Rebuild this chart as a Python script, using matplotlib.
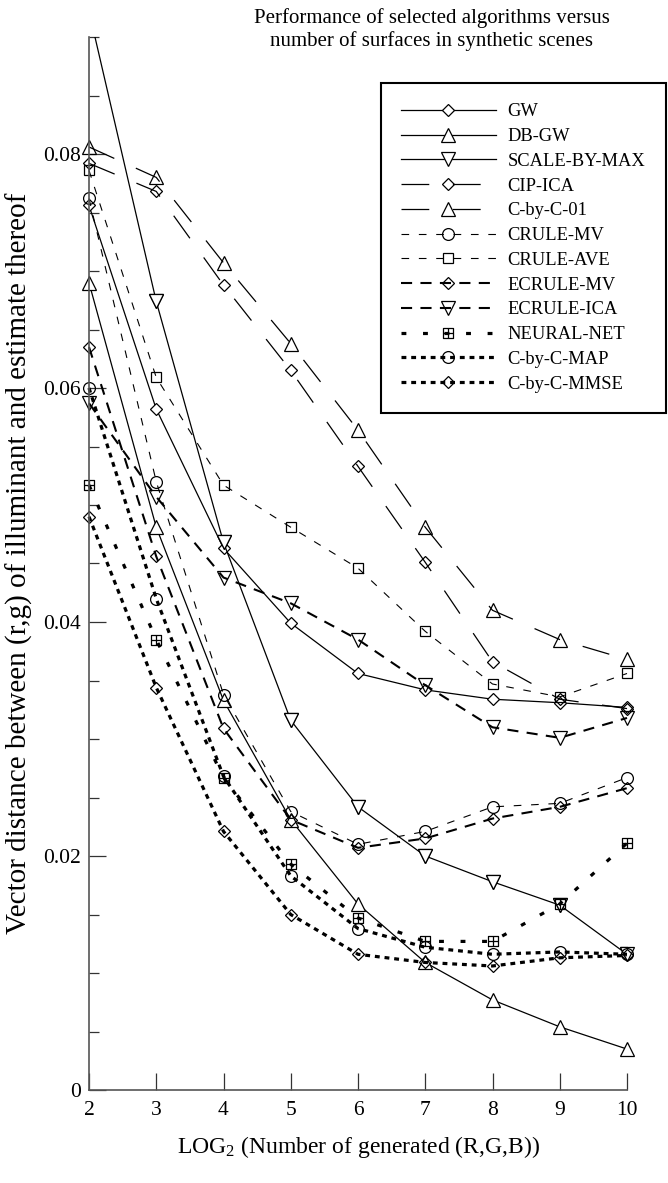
import numpy as np
import matplotlib
matplotlib.use("Agg")
import matplotlib.pyplot as plt
import matplotlib.ticker as mticker
from matplotlib.path import Path

# data
log2_n = [2, 3, 4, 5, 6, 7, 8, 9, 10]

gw          = [0.0756, 0.0582, 0.0463, 0.0399, 0.0356, 0.0342, 0.0334, 0.0331, 0.0327]
db_gw       = [0.0690, 0.0481, 0.0333, 0.0231, 0.0159, 0.0109, 0.0077, 0.0054, 0.0035]
scale_max   = [0.0922, 0.0674, 0.0468, 0.0316, 0.0242, 0.0200, 0.0178, 0.0158, 0.0116]
cip_ica     = [0.0792, 0.0768, 0.0688, 0.0615, 0.0533, 0.0451, 0.0366, 0.0334, 0.0326]
cbyc_01     = [0.0806, 0.0780, 0.0707, 0.0638, 0.0564, 0.0481, 0.0410, 0.0385, 0.0368]
crule_mv    = [0.0762, 0.0520, 0.0338, 0.0238, 0.0210, 0.0221, 0.0242, 0.0245, 0.0267]
crule_ave   = [0.0786, 0.0609, 0.0517, 0.0481, 0.0446, 0.0392, 0.0347, 0.0336, 0.0356]
ecrule_mv   = [0.0635, 0.0456, 0.0309, 0.0231, 0.0207, 0.0215, 0.0232, 0.0242, 0.0258]
ecrule_ica  = [0.0587, 0.0507, 0.0438, 0.0416, 0.0385, 0.0346, 0.0310, 0.0301, 0.0318]
neural_net  = [0.0517, 0.0385, 0.0267, 0.0193, 0.0147, 0.0127, 0.0127, 0.0159, 0.0211]
cbyc_map    = [0.0600, 0.0420, 0.0268, 0.0183, 0.0138, 0.0122, 0.0116, 0.0118, 0.0116]
cbyc_mmse   = [0.0490, 0.0344, 0.0221, 0.0150, 0.0116, 0.0109, 0.0106, 0.0113, 0.0115]

names = ["GW", "DB-GW", "SCALE-BY-MAX", "CIP-ICA", "C-by-C-01", "CRULE-MV",
         "CRULE-AVE", "ECRULE-MV", "ECRULE-ICA", "NEURAL-NET", "C-by-C-MAP",
         "C-by-C-MMSE"]
series = [gw, db_gw, scale_max, cip_ica, cbyc_01, crule_mv, crule_ave,
          ecrule_mv, ecrule_ica, neural_net, cbyc_map, cbyc_mmse]

# square with a cross inside (NEURAL-NET)
boxplus = Path([(-1, -1), (1, -1), (1, 1), (-1, 1), (-1, -1),
                (0, -1), (0, 1), (-1, 0), (1, 0)],
               [Path.MOVETO, Path.LINETO, Path.LINETO, Path.LINETO, Path.CLOSEPOLY,
                Path.MOVETO, Path.LINETO, Path.MOVETO, Path.LINETO])

SOLID = None
LONG  = (20, 17)
THIN  = (5.5, 7)
MED   = (8, 6)
NN    = (3.5, 12)
DOT   = (3.5, 3.5)

# (marker, size, dashes, linewidth, filled)
styles = [
    ("D", 5.8, SOLID, 0.9, True),
    ("^", 9.5, SOLID, 0.9, True),
    ("v", 9.5, SOLID, 0.9, True),
    ("D", 5.8, LONG, 0.9, False),
    ("^", 9.5, LONG, 0.9, False),
    ("o", 8.5, THIN, 0.8, False),
    ("s", 7.5, THIN, 0.8, False),
    ("D", 5.8, MED, 1.5, False),
    ("v", 9.5, MED, 1.5, False),
    (boxplus, 7.5, NN, 2.3, False),
    ("o", 8.5, DOT, 2.3, False),
    ("D", 5.8, DOT, 2.3, False),
]

plt.rcParams.update({
    "font.family": ["Liberation Serif", "DejaVu Serif"],
    "mathtext.fontset": "custom",
    "mathtext.rm": "Liberation Serif",
    "mathtext.it": "Liberation Serif:italic",
    "lines.scale_dashes": False,
    "xtick.direction": "in",
    "ytick.direction": "in",
})

fig = plt.figure(figsize=(6.68, 11.83), dpi=100)
ax = fig.add_axes([89 / 668, 1 - 1090 / 1183, 538 / 668, 1053 / 1183])
ax.set_facecolor("none")

YMAX = 0.09
for name, ys, (mk, ms, dash, lw, filled) in zip(names, series, styles):
    kw = dict(color="black", lw=lw, marker=mk, ms=ms, mew=0.9,
              mec="black", mfc="white" if filled else "none")
    if dash is not None:
        kw["dashes"] = dash
    ys = np.array(ys)
    over = ys.max() > YMAX
    ax.plot(log2_n, ys, label=name, clip_on=over, **kw)
    if over:
        # markers that sit on the frame edges stay whole
        keep = ys <= YMAX
        ax.plot(np.array(log2_n)[keep], ys[keep], ls="none", marker=mk, ms=ms,
                mew=0.9, mec="black", mfc=kw["mfc"], clip_on=False)

ax.set_xlim(2, 10)
ax.set_ylim(0, YMAX)
ax.set_xticks(log2_n)
ax.yaxis.set_major_locator(mticker.MultipleLocator(0.02))
ax.yaxis.set_minor_locator(mticker.MultipleLocator(0.005))
ax.yaxis.set_major_formatter(mticker.FuncFormatter(lambda v, _: "0" if v == 0 else f"{v:.2f}"))

for s in ["top", "right"]:
    ax.spines[s].set_visible(False)
for s in ["left", "bottom"]:
    ax.spines[s].set_color("#555555")
    ax.spines[s].set_linewidth(1.2)

ax.tick_params(axis="both", which="major", length=12.5, width=0.9, color="#333333",
               labelsize=15.5, pad=6)
ax.tick_params(axis="y", which="minor", length=7, width=0.9, color="#333333")
ax.tick_params(axis="x", pad=8)

ax.set_xlabel("LOG$_2$ (Number of generated (R,G,B))", fontsize=17)
ax.xaxis.set_label_coords(0.5, -0.042)
ax.set_ylabel("Vector distance between (r,g) of illuminant and estimate thereof",
              fontsize=21)
ax.yaxis.set_label_coords(-0.104, 0.5)

fig.text(432 / 668, 1 - 8 / 1183,
         "Performance of selected algorithms versus\nnumber of surfaces in synthetic scenes",
         ha="center", va="top", fontsize=15, linespacing=1.2)

leg = ax.legend(loc="upper left", bbox_to_anchor=(381 / 668, 1 - 83 / 1183),
                bbox_transform=fig.transFigure, borderaxespad=0, fontsize=13.3,
                handlelength=5.1, handletextpad=0.65, labelspacing=0.42,
                borderpad=1.1, fancybox=False, framealpha=1, edgecolor="black",
                numpoints=1)
leg.get_frame().set_linewidth(1.5)

fig.savefig("out.png", dpi=100)
